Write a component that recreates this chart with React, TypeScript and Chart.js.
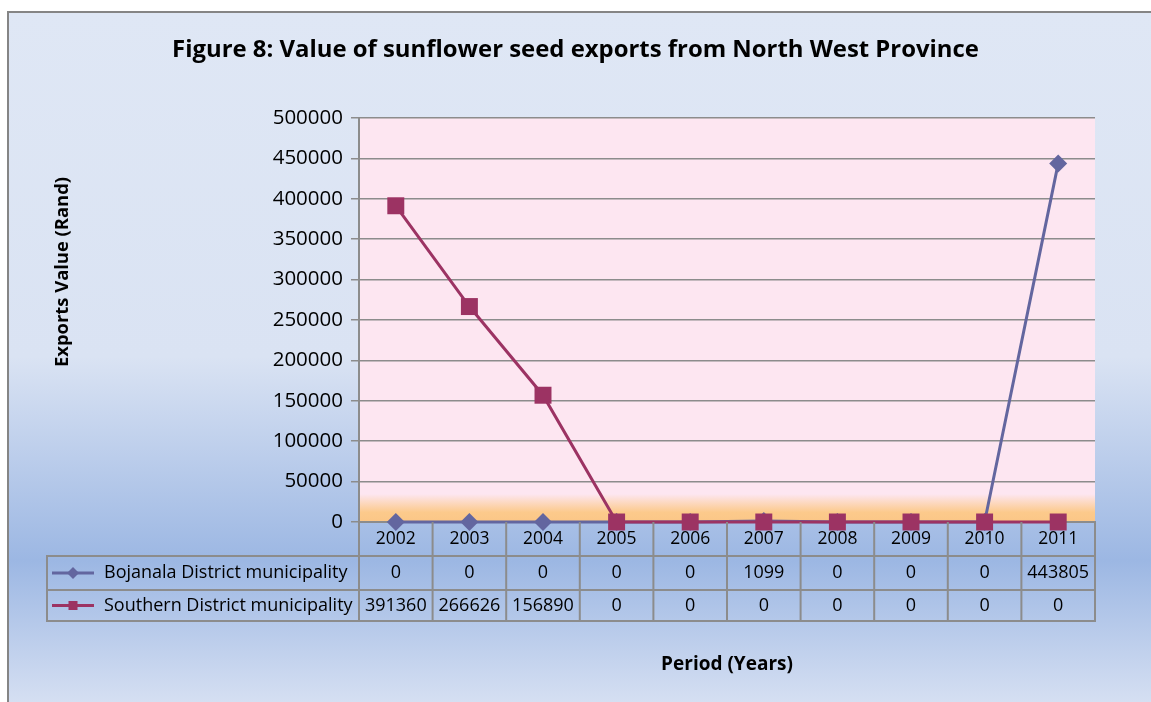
import React, { useEffect, useRef } from "react";
import { Chart, registerables } from "chart.js";

Chart.register(...registerables);

const titleText = "Figure 8: Value of sunflower seed exports from North West Province";
const yTitleText = "Exports Value (Rand)";
const xTitleText = "Period (Years)";

const years = ["2002", "2003", "2004", "2005", "2006", "2007", "2008", "2009", "2010", "2011"];
const seriesNames = ["Bojanala District municipality", "Southern District municipality"];
const bojanala = [0, 0, 0, 0, 0, 1099, 0, 0, 0, 443805];
const southern = [391360, 266626, 156890, 0, 0, 0, 0, 0, 0, 0];
const yMax = 500000;
const yStep = 50000;

const colorBoj = "#63669f";
const colorSou = "#9c3363";
const gridColor = "#8c8c8c";
const FONT = "'Open Sans', sans-serif";

export default function App() {
  const ref = useRef<HTMLCanvasElement | null>(null);

  useEffect(() => {
    const canvas = ref.current;
    if (!canvas) return;

    const bgPlugin = {
      id: "bgPlugin",
      beforeDraw(chart: any) {
        const ctx = chart.ctx;
        const W = chart.width;
        const H = chart.height;
        ctx.save();
        ctx.fillStyle = "#ffffff";
        ctx.fillRect(0, 0, W, H);
        const g = ctx.createLinearGradient(0, 11, 0, H);
        g.addColorStop(0, "#dfe7f5");
        g.addColorStop(0.5, "#dae3f3");
        g.addColorStop(0.795, "#9cb7e3");
        g.addColorStop(1, "#d5dff2");
        ctx.fillStyle = g;
        ctx.fillRect(7, 11, W - 7, H - 11);
        ctx.strokeStyle = "#858585";
        ctx.lineWidth = 2;
        ctx.beginPath();
        ctx.moveTo(8, H);
        ctx.lineTo(8, 12);
        ctx.lineTo(W, 12);
        ctx.stroke();
        const a = chart.chartArea;
        ctx.fillStyle = "#fde6f1";
        ctx.fillRect(a.left, a.top, a.right - a.left, a.bottom - a.top);
        const og = ctx.createLinearGradient(0, a.bottom - 28, 0, a.bottom);
        og.addColorStop(0, "rgba(252,202,140,0)");
        og.addColorStop(0.65, "rgba(252,202,140,1)");
        og.addColorStop(1, "rgba(251,198,134,1)");
        ctx.fillStyle = og;
        ctx.fillRect(a.left, a.bottom - 28, a.right - a.left, 28);
        ctx.restore();
      },
    };

    const tablePlugin = {
      id: "tablePlugin",
      afterDraw(chart: any) {
        const ctx = chart.ctx;
        const a = chart.chartArea;
        const xs = chart.scales.x;
        const n = years.length;
        const cw = (a.right - a.left) / n;
        const r0 = a.bottom;
        const r1 = r0 + 34;
        const r2 = r1 + 34;
        const r3 = r2 + 31;
        const left = 47;
        ctx.save();
        ctx.strokeStyle = gridColor;
        ctx.lineWidth = 2;
        ctx.beginPath();
        [r1, r2, r3].forEach((y) => {
          ctx.moveTo(left, y);
          ctx.lineTo(a.right, y);
        });
        ctx.moveTo(left, r1 - 1);
        ctx.lineTo(left, r3 + 1);
        for (let i = 0; i <= n; i++) {
          const x = a.left + i * cw;
          ctx.moveTo(x, r0);
          ctx.lineTo(x, r3 + 1);
        }
        ctx.stroke();

        const rows = [
          { name: seriesNames[0], data: bojanala, color: colorBoj, style: "diamond", y: (r1 + r2) / 2 },
          { name: seriesNames[1], data: southern, color: colorSou, style: "square", y: (r2 + r3) / 2 },
        ];
        rows.forEach((row) => {
          ctx.strokeStyle = row.color;
          ctx.fillStyle = row.color;
          ctx.lineWidth = 3;
          ctx.beginPath();
          ctx.moveTo(52, row.y);
          ctx.lineTo(94, row.y);
          ctx.stroke();
          const mx = 73;
          if (row.style === "diamond") {
            ctx.beginPath();
            ctx.moveTo(mx - 6, row.y);
            ctx.lineTo(mx, row.y - 6);
            ctx.lineTo(mx + 6, row.y);
            ctx.lineTo(mx, row.y + 6);
            ctx.closePath();
            ctx.fill();
          } else {
            ctx.fillRect(mx - 4.5, row.y - 4.5, 9, 9);
          }
          ctx.fillStyle = "#000";
          ctx.font = `18px ${FONT}`;
          ctx.textBaseline = "middle";
          ctx.textAlign = "left";
          ctx.fillText(row.name, 104, row.y);
          ctx.textAlign = "center";
          row.data.forEach((v, i) => {
            ctx.fillText(String(v), xs.getPixelForValue(i), row.y);
          });
        });

        ctx.save();
        ctx.translate(63, 272);
        ctx.rotate(-Math.PI / 2);
        ctx.font = `bold 18.4px ${FONT}`;
        ctx.fillStyle = "#000";
        ctx.textAlign = "center";
        ctx.textBaseline = "middle";
        ctx.fillText(yTitleText, 0, 0);
        ctx.restore();
        ctx.restore();
      },
    };

    const chart = new Chart(canvas, {
      type: "line",
      data: {
        labels: years,
        datasets: [
          {
            label: seriesNames[0],
            data: bojanala,
            borderColor: colorBoj,
            backgroundColor: colorBoj,
            borderWidth: 3,
            pointStyle: "rectRot",
            pointRadius: 9,
            pointBorderWidth: 0,
            pointBackgroundColor: colorBoj,
            clip: false,
            order: 1,
          },
          {
            label: seriesNames[1],
            data: southern,
            borderColor: colorSou,
            backgroundColor: colorSou,
            borderWidth: 3,
            pointStyle: "rect",
            pointRadius: 12,
            pointBorderWidth: 0,
            pointBackgroundColor: colorSou,
            clip: false,
            order: 0,
          },
        ],
      },
      options: {
        responsive: false,
        animation: false,
        layout: { padding: 0 },
        plugins: {
          legend: { display: false },
          tooltip: { enabled: false },
          title: {
            display: true,
            text: titleText,
            color: "#000",
            font: { family: FONT, size: 23.9, weight: "bold" },
            padding: { top: 35.6, bottom: 53.7 },
          },
        },
        scales: {
          x: {
            type: "category",
            offset: true,
            grid: { display: false, drawTicks: false },
            border: { display: true, color: gridColor, width: 2 },
            ticks: {
              color: "#000",
              font: { family: FONT, size: 17.5 },
              padding: 6.5,
              maxRotation: 0,
              autoSkip: false,
            },
            title: {
              display: true,
              text: xTitleText,
              color: "#000",
              font: { family: FONT, size: 19, weight: "bold" },
              padding: { top: 0, bottom: 25.6 },
            },
            afterFit: (s: any) => {
              s.height = 180;
            },
          },
          y: {
            type: "linear",
            position: "left",
            min: 0,
            max: yMax,
            grid: {
              color: gridColor,
              lineWidth: 1.5,
              drawTicks: true,
              tickLength: 8,
              tickColor: gridColor,
            },
            border: { display: true, color: gridColor, width: 2 },
            ticks: {
              stepSize: yStep,
              color: "#000",
              font: { family: FONT, size: 20.5 },
              padding: 8,
              callback: (v: any) => String(v),
            },
            afterFit: (s: any) => {
              s.width = 359;
            },
          },
          yR: {
            type: "linear",
            position: "right",
            display: true,
            grid: { display: false, drawTicks: false },
            border: { display: false },
            ticks: { display: false },
            afterFit: (s: any) => {
              s.width = 56;
            },
          },
        },
      },
      plugins: [bgPlugin, tablePlugin],
    });

    return () => chart.destroy();
  }, []);

  return (
    <div style={{ position: "fixed", left: 0, top: 0, width: 1151, height: 702 }}>
      <canvas ref={ref} width={1151} height={702} style={{ display: "block" }} />
    </div>
  );
}
